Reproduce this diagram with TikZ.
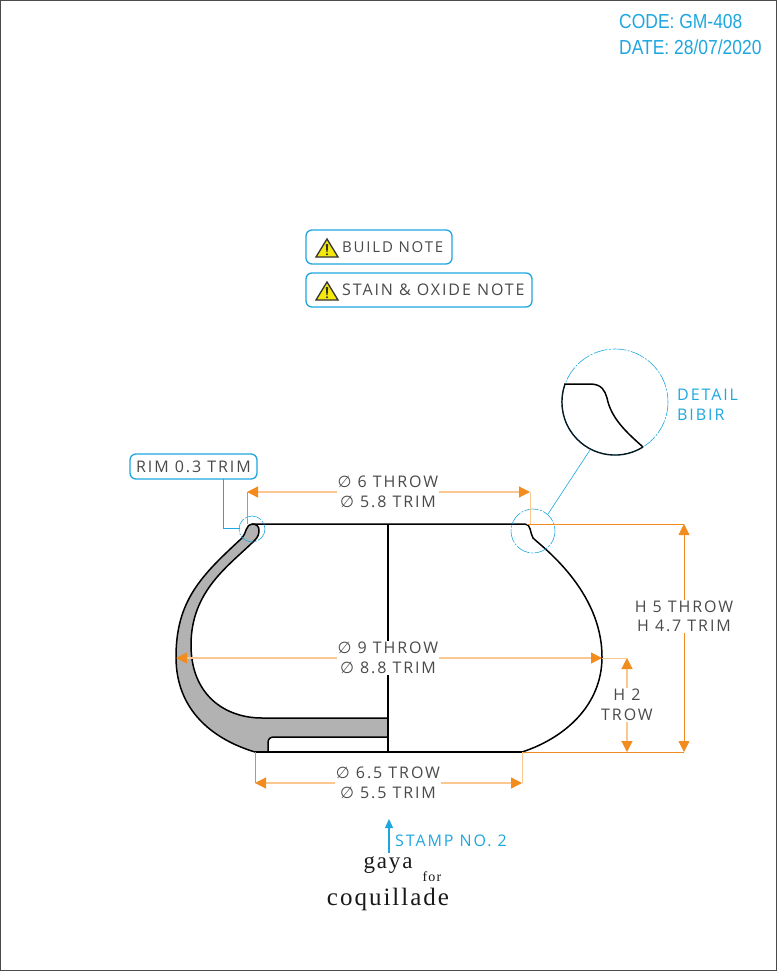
\documentclass[tikz,border=0pt]{standalone}
\usepackage{fontspec}
\usetikzlibrary{arrows.meta}
\setmainfont{Liberation Sans}
\newfontfamily\techfont[LetterSpace=12]{Open Sans}
\newfontfamily\narrowfont[FakeStretch=0.86]{Liberation Sans}
\newfontfamily\logofont[LetterSpace=8]{Liberation Serif}
\newfontfamily\symfont{DejaVu Sans}
\newcommand{\dia}{{\symfont\char"2205}}
\newcommand{\techsize}{\techfont\fontsize{16}{17}\selectfont}
\definecolor{dimor}{HTML}{F28C1E}
\definecolor{dimlt}{HTML}{F9C78F}
\definecolor{noteblue}{HTML}{1EA7DF}
\definecolor{inkgrey}{HTML}{4A4A4A}
\definecolor{wallgrey}{HTML}{B2B2B2}
\tikzset{
  x=1pt,y=-1pt,
  profile/.style={draw=black,line width=1.5pt,line join=round},
  tipend/.style={-{Triangle[length=11pt,width=11pt,color=dimor]}},
  dimline/.style={draw=dimlt,line width=1.2pt},
  extline/.style={draw=dimor,line width=.8pt},
  extlight/.style={draw=dimlt,line width=1pt},
  dimlabel/.style={fill=white,inner sep=1pt,text=inkgrey,font=\techsize,align=center},
  notebox/.style={draw=noteblue,line width=1.3pt,rounded corners=6pt,fill=white},
  bluetext/.style={text=noteblue,font=\techsize,inner sep=0pt},
  bluethin/.style={draw=noteblue,line width=.6pt},
  detailcirc/.style={draw=noteblue,line width=.6pt,dash pattern=on 14pt off 1.5pt on 2pt off 1.5pt},
  warntri/.style={draw=inkgrey!70!black,line width=1.3pt,fill=yellow!95!black,line join=miter},
}
\begin{document}
\begin{tikzpicture}
\useasboundingbox (0,0) rectangle (777,971);
\draw[draw=inkgrey,line width=1pt] (.5,.5) rectangle (776.5,970.5);

% header
\node[bluetext,font=\narrowfont\fontsize{20.3}{22}\selectfont,anchor=west] (code) at (619,22) {CODE: GM-408};
\node[bluetext,font=\narrowfont\fontsize{20.3}{22}\selectfont,anchor=west] (date) at (619,47) {DATE: 28/07/2020};

% notes
\draw[notebox] (306,230) rectangle (452,264);
\draw[notebox] (306,273) rectangle (532,307);
\node[text=inkgrey,font=\techfont\fontsize{15}{17}\selectfont,anchor=west,inner sep=0pt] (buildnote) at (342,247) {BUILD NOTE};
\node[text=inkgrey,font=\techsize,anchor=west,inner sep=0pt] (stainnote) at (342,290) {STAIN \& OXIDE NOTE};
\foreach \yy in {0,43}{
  \draw[warntri] (327,239+\yy) -- (338,257+\yy) -- (316,257+\yy) -- cycle;
  \fill[inkgrey!70!black] (325.8,244+\yy) -- (328.2,244+\yy) -- (327.6,252+\yy) -- (326.4,252+\yy) -- cycle;
  \fill[inkgrey!70!black] (327,254.2+\yy) circle (1.1);
}

% section: wall
\draw[profile,fill=wallgrey]
  (252,524) .. controls (256,524) and (259,526) .. (259,530)
  .. controls (259,534) and (258,537) .. (255,540)
  .. controls (230,565) and (191,590) .. (191,645)
  .. controls (191,695) and (225,718) .. (262,718)
  -- (388,718) -- (388,737) -- (274,737)
  .. controls (270,737) and (268,739) .. (268,743)
  -- (268,752) -- (255,752)
  .. controls (215,740) and (176,712) .. (176,657)
  .. controls (176,600) and (202,575) .. (242,538)
  .. controls (246,534) and (246,524) .. (252,524) -- cycle;
\coordinate (axtop) at (388,524);
\coordinate (axbot) at (388,752);
\coordinate (rimL) at (252,524);
\coordinate (rimR) at (525,524);
\coordinate (baseL) at (255,752);
\coordinate (baseR) at (522,752);
\draw[profile] (rimL) -- (rimR)
  .. controls (531,524) and (530,533) .. (533,538)
  .. controls (541,546) and (602,590) .. (602,657)
  .. controls (602,705) and (565,738) .. (522,752);
\draw[profile] (baseL) -- (baseR);
\draw[draw=black,line width=1.3pt] (axtop) -- (axbot);

% detail circles
\coordinate (smallc) at (533,531);
\coordinate (bigc) at (615,402);
\draw[detailcirc] (bigc) circle (53);
\draw[detailcirc] (smallc) circle (22);
\draw[detailcirc] (252,529) circle (13);
\draw[profile] (564,384) -- (590,384)
  .. controls (602,384) and (605,391) .. (607,398)
  .. controls (611,418) and (626,432) .. (643,447);
\draw[draw=black!85!noteblue,line width=1.4pt] (643,447) arc[start angle=58,end angle=199.5,radius=53];
\draw[bluethin] (548,514) -- (590,450);

% rim note
\node[notebox,text=inkgrey,font=\techsize,minimum width=127pt,minimum height=25pt,inner sep=0pt] (rimnote) at (193.5,466.5) {RIM 0.3 TRIM};
\coordinate (rimleadA) at (223,479);
\coordinate (rimleadB) at (223,528);
\coordinate (rimleadC) at (240,528);
\draw[draw=noteblue,line width=1pt] (rimleadA) -- (rimleadB) -- (rimleadC);

% extension lines
\coordinate (t1) at (247,492); \coordinate (t2) at (530,492);
\coordinate (m1) at (176,658); \coordinate (m2) at (602,658);
\coordinate (b1) at (255,783); \coordinate (b2) at (522,783);
\coordinate (h1) at (684,524); \coordinate (h2) at (684,752);
\coordinate (k1) at (627,658); \coordinate (k2) at (627,752);
\draw[extline] (247,524) -- (t1);
\draw[extlight] (530,524) -- (t2);
\draw[extline] (527,524) -- (h1);
\draw[extline] (baseR) -- (h2);
\draw[extlight] (m2) -- (k1);
\draw[extline] (255,752) -- (b1);
\draw[extlight] (baseR) -- (b2);

% dimensions
\draw[dimline,tipend] (388,492) -- (t1);
\draw[dimline,tipend] (388,492) -- (t2);
\draw[dimline,tipend] (388,658) -- (m1);
\draw[dimline,tipend] (388,658) -- (m2);
\draw[dimline,tipend] (388,783) -- (b1);
\draw[dimline,tipend] (388,783) -- (b2);
\draw[extline,tipend] (684,616) -- (h1);
\draw[extline,tipend] (684,616) -- (h2);
\draw[dimline,tipend] (627,705) -- (k1);
\draw[dimline,tipend] (627,705) -- (k2);

% labels
\node[dimlabel] (dimtop) at (388,492) {\dia{} 6 THROW\\[2.5pt]\dia{} 5.8 TRIM};
\node[dimlabel] (dimmid) at (388,658) {\dia{} 9 THROW\\[2.5pt]\dia{} 8.8 TRIM};
\node[dimlabel] (dimbot) at (388,783) {\dia{} 6.5 TROW\\[2.5pt]\dia{} 5.5 TRIM};
\node[dimlabel] (dimh) at (684,616.5) {H 5 THROW\\[2.5pt]H 4.7 TRIM};
\node[dimlabel] (dimk) at (627,705) {H 2\\[3pt]TROW};

% detail label
\node[bluetext,anchor=west] (detaila) at (677,394.5) {DETAIL};
\node[bluetext,anchor=west] (detailb) at (677,414.5) {BIBIR};

% stamp
\coordinate (stampA) at (389,853);
\coordinate (stampB) at (389,819);
\draw[draw=noteblue,line width=1.1pt,-{Triangle[length=9pt,width=8pt,color=noteblue]}] (stampA) -- (stampB);
\node[bluetext,anchor=west] (stamp) at (395,840.5) {STAMP NO. 2};

% logo
\node[font=\logofont\fontsize{23}{25}\selectfont,inner sep=0pt,text=black!90] (gaya) at (388,865) {gaya};
\node[font=\logofont\fontsize{14}{16}\selectfont,inner sep=0pt,text=black!90] (for) at (432,877) {for};
\node[font=\logofont\fontsize{25}{27}\selectfont,inner sep=0pt,text=black!90] (coq) at (388,899) {coquillade};
\end{tikzpicture}
\end{document}
